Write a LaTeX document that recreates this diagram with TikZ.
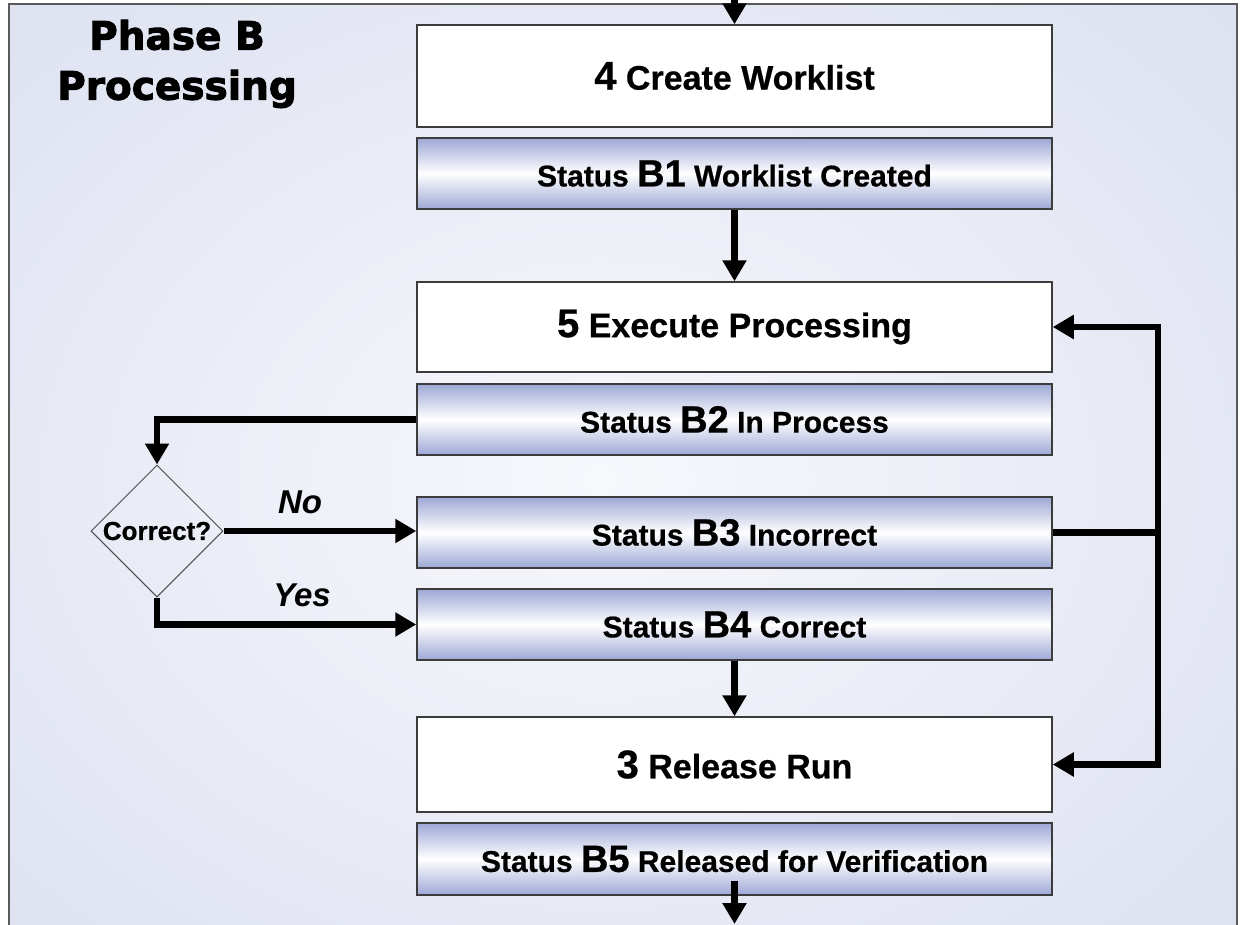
\documentclass[tikz,border=0pt]{standalone}
\usepackage{fontspec}
\setmainfont{Liberation Sans}[BoldFeatures={FakeBold=0.6}]
\newfontfamily\titlefont{DejaVu Sans}[BoldFeatures={FakeBold=2.5}]
\usetikzlibrary{arrows.meta, shapes.geometric}

\definecolor{bgout}{RGB}{203,209,232}
\definecolor{bgin}{RGB}{247,248,252}
\definecolor{statusblue}{RGB}{158,168,214}
\definecolor{boxline}{RGB}{60,60,60}

\newcommand{\stepline}[2]{{\fontsize{40}{44}\selectfont #1} #2}
\newcommand{\statline}[2]{Status {\fontsize{38}{40}\selectfont #1} #2}

\begin{document}
\begin{tikzpicture}[x=1pt, y=-1pt,
  stepbox/.style={draw=boxline, line width=1.5pt, fill=white, minimum width=635pt,
    inner sep=0pt, font=\bfseries\fontsize{34}{40}\selectfont},
  statbox/.style={draw=boxline, line width=1.5pt, top color=statusblue,
    bottom color=statusblue, middle color=white, minimum width=635pt,
    minimum height=71pt, inner sep=0pt, font=\bfseries\fontsize{30}{36}\selectfont},
  flow/.style={line width=6.5pt, -{Triangle[length=21pt, width=23pt]}},
  tag/.style={font=\bfseries\itshape\fontsize{33}{36}\selectfont, inner sep=0pt}]
  \useasboundingbox (0,0) rectangle (1242,924);
  \fill[white] (0,0) rectangle (1242,924);
  % background panel
  \begin{scope}
    \clip (9,4) rectangle (1237,940);
    \shade[inner color=bgin, outer color=bgout] (600,480) ellipse (1500pt and 1150pt);
  \end{scope}
  \draw[black!65, line width=2pt] (9,4) rectangle (1237,940);
  % title
  \node[font=\titlefont\bfseries\fontsize{39}{50}\selectfont, align=center, inner sep=0pt]
    (title) at (177,64) {Phase B\\Processing};
  % steps and status boxes
  \node[stepbox, minimum height=102pt] (create) at (734.5,76) {\stepline{4}{Create Worklist}};
  \node[statbox] (b1) at (734.5,173.5) {\statline{B1}{Worklist Created}};
  \node[stepbox, minimum height=90pt] (execute) at (734.5,327) {\stepline{5}{Execute Processing}};
  \node[statbox] (b2) at (734.5,419.5) {\statline{B2}{In Process}};
  \node[statbox] (b3) at (734.5,532.5) {\statline{B3}{Incorrect}};
  \node[statbox] (b4) at (734.5,624.5) {\statline{B4}{Correct}};
  \node[stepbox, minimum height=95pt] (release) at (734.5,764.5) {\stepline{3}{Release Run}};
  \node[statbox, minimum height=72pt] (b5) at (734.5,859) {\statline{B5}{Released for Verification}};
  % decision
  \node[diamond, draw=black!70, line width=1pt, minimum size=132pt, inner sep=0pt,
    font=\bfseries\fontsize{26}{28}\selectfont] (check) at (157,531) {Correct?};
  \node[tag] (no) at (300,502) {No};
  \node[tag] (yes) at (302,595) {Yes};
  % connectors
  \coordinate (in) at (734.5,0);
  \coordinate (out) at (734.5,924);
  \coordinate (loop) at (1158,532.5);
  \draw[flow] (in) -- (create);
  \draw[flow] (b1) -- (execute);
  \draw[flow] (b2.west) -| (check.north);
  \draw[flow] (check.east) -- (check.east -| b3.west);
  \draw[flow] (check.south) |- (b4.west);
  \draw[flow] (b4) -- (release);
  \draw[line width=6.5pt] (b3.east) -- (loop);
  \draw[flow] (loop) |- (execute.east);
  \draw[flow] (loop) |- (release.east);
  \draw[flow] ([yshift=15pt]b5.south) -- (out);
\end{tikzpicture}
\end{document}
